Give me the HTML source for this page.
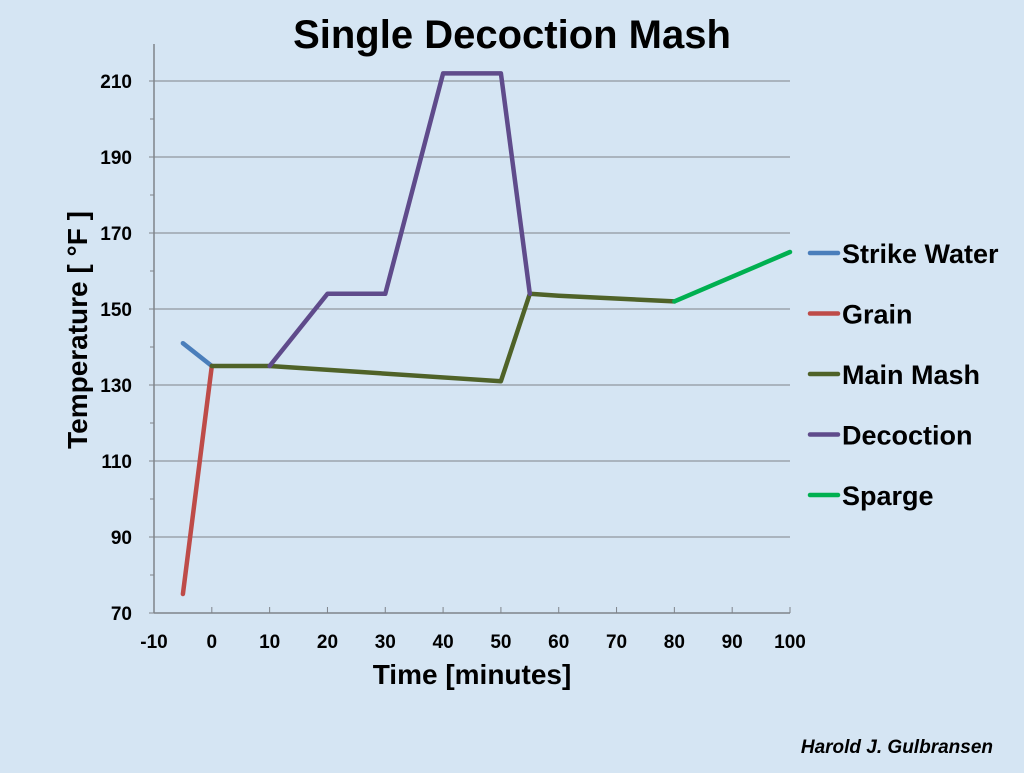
<!DOCTYPE html>
<html><head><meta charset="utf-8"><style>
body{margin:0;width:1024px;height:768px;overflow:hidden;background:#d5e5f3;font-family:"Liberation Sans",sans-serif}
</style></head><body>
<svg id="chart" width="1024" height="768" xmlns="http://www.w3.org/2000/svg">
<rect width="1024" height="768" fill="#d5e5f3"/>
<text x="512" y="48" text-anchor="middle" font-size="40" font-weight="bold" fill="#000">Single Decoction Mash</text>
<g id="grid"></g>
<g id="axes"></g>
<g id="series"></g>
<g id="legend"></g>
<text x="472" y="684" text-anchor="middle" font-size="28" font-weight="bold">Time [minutes]</text>
<text transform="translate(87,330) rotate(-90)" text-anchor="middle" font-size="28" font-weight="bold">Temperature  [ °F ]</text>
<text x="993" y="753" text-anchor="end" font-size="19" font-weight="bold" font-style="italic">Harold J. Gulbransen</text>
</svg>
<script>
const xTicks=[-10,0,10,20,30,40,50,60,70,80,90,100];
const yTicks=[70,90,110,130,150,170,190,210];
const seriesNames=["Strike Water","Grain","Main Mash","Decoction","Sparge"];
const seriesColors=["#4a7ebb","#be4b48","#4f6228","#5f4b8b","#00b050"];
const strikeX=[-5,0], strikeY=[141,135];
const grainX=[-5,0], grainY=[75,135];
const mainX=[0,10,50,55,60,80], mainY=[135,135,131,154,153.5,152];
const decoX=[10,20,30,40,50,55], decoY=[135,154,154,212,212,154];
const spargeX=[80,100], spargeY=[152,165];
const NS="http://www.w3.org/2000/svg";
const X0=154,X1=790,Y0=613,Y1=81;
const sx=v=>X0+(v-(-10))/110*(X1-X0);
const sy=v=>Y0-(v-70)/140*(Y0-Y1);
function mk(t,a,p){const e=document.createElementNS(NS,t);for(const k in a)e.setAttribute(k,a[k]);p.appendChild(e);return e;}
const grid=document.getElementById('grid'),axes=document.getElementById('axes'),ser=document.getElementById('series'),leg=document.getElementById('legend');
yTicks.forEach(v=>{
 if(v>70){const l=mk('line',{x1:X0,x2:X1,y1:sy(v),y2:sy(v),stroke:'#7f848a','stroke-width':1},grid);
 }
 const t=mk('text',{x:X0-22,y:sy(v)+7,'text-anchor':'end','font-size':19,'font-weight':'bold'},axes);t.textContent=v;
 
 mk('line',{x1:X0-5,x2:X0,y1:sy(v),y2:sy(v),stroke:'#7f848a'},axes);
 if(v<210)mk('line',{x1:X0-4,x2:X0,y1:sy(v+10),y2:sy(v+10),stroke:'#7f848a'},axes);
});
mk('line',{x1:X0,x2:X0,y1:Y0,y2:44,stroke:'#7f848a','stroke-width':1.5},axes);
mk('line',{x1:X0,x2:X1,y1:Y0,y2:Y0,stroke:'#7f848a','stroke-width':1.5},axes);
xTicks.forEach(v=>{
 mk('line',{x1:sx(v),x2:sx(v),y1:Y0,y2:Y0-6,stroke:'#7f848a'},axes);
 const t=mk('text',{x:sx(v),y:648,'text-anchor':'middle','font-size':19,'font-weight':'bold'},axes);t.textContent=v;
 
});
const data=[[strikeX,strikeY],[grainX,grainY],[mainX,mainY],[decoX,decoY],[spargeX,spargeY]];
data.forEach((d,i)=>{
 const pts=d[0].map((x,j)=>sx(x)+','+sy(d[1][j])).join(' ');
 const p=mk('polyline',{points:pts,fill:'none',stroke:seriesColors[i],'stroke-width':4.5,'stroke-linejoin':'round','stroke-linecap':'round'},ser);
 
 const y=253+i*60.5;
 const l=mk('line',{x1:810,x2:838,y1:y,y2:y,stroke:seriesColors[i],'stroke-width':4.5,'stroke-linecap':'round'},leg);
 
 const t=mk('text',{x:842,y:y+10,'font-size':27,'font-weight':'bold'},leg);t.textContent=seriesNames[i];
 
});
</script>
</body></html>
